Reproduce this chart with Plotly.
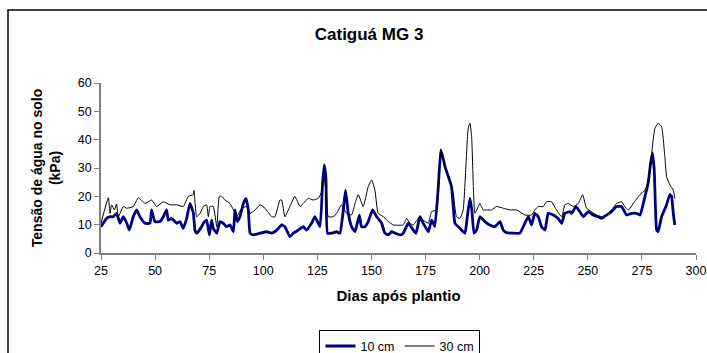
import plotly.graph_objects as go

# 10 cm series (days after planting, soil water tension kPa)
days_10 = [25.0, 27.6, 29.2, 30.7, 32.2, 33.8, 35.3, 36.9, 38.1, 39.9, 41.5, 43.0, 45.3, 47.6, 48.4,
           49.9, 52.3, 53.8, 55.3, 56.1, 57.6, 60.0, 61.5, 63.0, 64.6, 66.1, 67.7, 68.4, 69.2, 71.5,
           72.3, 73.8, 75.1, 76.1, 76.9, 78.5, 80.0, 81.5, 83.1, 84.6, 86.2, 86.9, 88.0, 89.2, 90.8,
           92.0, 93.1, 93.9, 95.4, 98.5, 101.6, 103.9, 106.2, 108.5, 110.0, 112.3, 113.9, 116.2, 118.5,
           120.0, 122.3, 123.9, 126.2, 127.4, 128.2, 129.0, 129.7, 131.6, 133.9, 135.4, 137.0, 138.0,
           139.3, 140.8, 142.4, 144.4, 145.4, 147.0, 148.5, 150.5, 152.4, 154.7, 156.2, 157.8, 159.3,
           160.9, 163.2, 164.7, 167.0, 169.3, 170.6, 172.4, 173.9, 176.3, 177.8, 178.6, 179.3, 180.9,
           182.1, 184.0, 185.5, 187.0, 187.8, 188.6, 190.9, 193.2, 194.3, 195.5, 196.4, 197.4, 198.6,
           200.1, 202.4, 204.7, 207.1, 209.4, 210.9, 212.4, 215.5, 218.6, 220.9, 222.5, 224.0, 225.5,
           227.1, 228.6, 230.2, 231.7, 234.0, 236.3, 237.9, 239.4, 241.7, 242.5, 244.5, 246.3, 247.9,
           250.2, 252.5, 254.8, 256.4, 258.7, 261.0, 263.3, 265.6, 267.9, 270.2, 272.5, 274.1, 276.4,
           277.9, 279.0, 279.9, 280.7, 281.8, 282.5, 284.1, 286.1, 287.9, 288.7, 289.5, 290.2]
tens_10 = [9.3, 12.2, 12.8, 12.8, 14.0, 10.5, 12.8, 10.5, 8.1, 12.8, 15.2, 12.8, 10.5, 10.5, 15.2,
           11.1, 11.1, 12.8, 15.2, 11.6, 12.2, 10.5, 11.1, 8.7, 12.2, 17.5, 14.0, 8.1, 7.0, 9.3,
           10.5, 11.6, 6.4, 11.6, 8.7, 7.0, 11.1, 10.5, 9.3, 9.9, 7.5, 15.2, 11.1, 12.8, 17.5,
           19.3, 15.2, 7.0, 6.4, 7.0, 7.5, 7.0, 8.1, 9.9, 9.3, 5.8, 7.0, 8.1, 9.3,
           8.1, 10.5, 12.8, 9.3, 24.6, 31.1, 25.8, 7.0, 7.0, 7.5, 7.0, 15.2, 22.2,
           14.0, 9.3, 7.5, 13.4, 9.3, 9.3, 11.1, 15.2, 12.8, 10.5, 7.0, 6.4, 7.5,
           7.0, 6.4, 7.0, 10.5, 8.1, 7.0, 12.8, 10.5, 7.5, 11.6, 10.5, 9.3, 23.4,
           36.4, 30.5, 27.0, 23.4, 16.4, 10.5, 8.7, 7.0, 12.8, 19.3, 15.2, 7.0, 8.1,
           12.8, 11.1, 9.9, 9.3, 11.1, 8.1, 7.2, 7.0, 7.0, 10.5, 12.8, 9.9, 14.0,
           12.8, 9.3, 8.1, 14.0, 13.4, 12.2, 10.5, 14.0, 14.6, 14.0, 16.4, 14.6, 12.8,
           14.6, 13.4, 12.8, 12.2, 13.4, 14.6, 16.4, 16.4, 13.4, 14.0, 14.0, 13.4, 19.9,
           24.6, 31.6, 35.2, 29.3, 8.1, 7.5, 12.8, 16.4, 20.6, 20.0, 14.0, 9.9]

# 30 cm series
days_30 = [25.0, 28.4, 29.2, 29.9, 31.2, 32.2, 33.0, 35.3, 36.9, 39.9, 42.3, 45.3, 48.4, 50.7, 53.8,
           56.9, 60.0, 63.0, 65.4, 67.7, 68.0, 69.2, 70.8, 72.3, 73.8, 74.6, 75.4, 76.9, 78.5, 79.7,
           80.8, 82.3, 84.6, 86.2, 87.7, 90.0, 92.3, 93.9, 96.2, 98.5, 100.8, 103.9, 105.4, 107.7,
           108.5, 110.0, 112.3, 114.6, 117.0, 118.5, 120.8, 123.1, 125.4, 127.0, 128.0, 129.3, 130.0,
           132.4, 133.9, 136.2, 138.5, 140.8, 142.4, 143.9, 146.2, 148.5, 150.1, 151.6, 153.1, 155.5,
           157.8, 160.1, 164.7, 166.2, 167.8, 169.3, 172.4, 173.9, 176.3, 177.8, 180.1, 180.9, 182.0,
           184.0, 186.3, 187.8, 189.3, 190.9, 192.4, 193.7, 194.7, 195.5, 196.3, 197.1, 197.8, 199.4,
           200.1, 201.7, 203.2, 205.5, 207.8, 210.9, 214.0, 217.1, 220.9, 224.0, 225.5, 227.1, 229.4,
           230.9, 233.2, 235.5, 237.9, 239.4, 241.0, 243.3, 245.6, 247.6, 249.4, 251.7, 254.0, 256.3,
           258.7, 261.0, 263.3, 265.6, 267.1, 268.7, 271.0, 274.1, 276.4, 277.9, 279.5, 281.0, 282.5,
           284.1, 285.6, 286.4, 287.9, 289.5, 290.2]
tens_30 = [10.5, 19.5, 14.0, 17.0, 15.2, 17.3, 12.8, 16.4, 15.8, 16.4, 19.5, 17.5, 18.7, 16.4, 18.1,
           17.0, 17.0, 16.4, 20.0, 20.6, 22.1, 12.8, 14.0, 16.4, 17.0, 12.8, 16.4, 16.4, 9.3, 20.0,
           20.0, 18.7, 17.5, 15.2, 12.8, 15.8, 16.4, 14.0, 15.2, 17.0, 15.8, 12.8, 12.8, 18.7,
           18.7, 12.8, 16.4, 20.0, 16.4, 17.5, 19.3, 18.7, 19.3, 21.6, 27.0, 20.0, 12.8,
           12.8, 14.0, 17.0, 14.0, 13.4, 17.5, 20.6, 16.4, 23.4, 25.8, 22.2, 14.0, 12.8,
           11.1, 9.9, 9.9, 12.2, 10.5, 9.9, 12.8, 11.6, 10.5, 14.6, 15.2, 22.1, 36.4,
           30.5, 25.8, 21.1, 12.8, 12.2, 15.2, 31.6, 44.0, 45.8, 41.1, 23.4, 14.0, 16.4,
           17.5, 15.2, 15.2, 15.2, 16.4, 15.8, 15.2, 15.2, 13.4, 13.4, 15.2, 16.4, 16.4,
           18.1, 18.1, 15.2, 12.8, 17.0, 17.5, 16.4, 17.5, 20.6, 15.8, 14.6, 13.4, 12.8,
           13.4, 15.2, 17.5, 18.1, 16.4, 15.2, 17.5, 20.6, 22.1, 25.8, 35.2, 44.0, 45.8,
           44.6, 34.0, 27.0, 24.1, 22.2, 19.3]

x_ticks = [25, 50, 75, 100, 125, 150, 175, 200, 225, 250, 275, 300]
y_ticks = [0, 10, 20, 30, 40, 50, 60]

FONT = "Liberation Sans, Arial, sans-serif"

fig = go.Figure()
fig.add_trace(go.Scatter(x=days_10, y=tens_10, mode="lines", name="10 cm",
                         line=dict(color="#000080", width=2.8, shape="spline", smoothing=0.4)))
fig.add_trace(go.Scatter(x=days_30, y=tens_30, mode="lines", name="30 cm",
                         line=dict(color="#000000", width=1, shape="spline", smoothing=0.4)))

fig.update_layout(
    width=707, height=353,
    margin=dict(l=101, r=11, t=83, b=100, autoexpand=False),
    paper_bgcolor="white", plot_bgcolor="white",
    font=dict(family=FONT, size=12, color="black"),
    title=dict(text="<b>Catiguá MG 3</b>", x=0.522, xanchor="center", y=0.903, yanchor="middle",
               font=dict(size=17, family=FONT)),
    showlegend=True,
    legend=dict(orientation="h", x=0.5025, xanchor="center", y=-0.455, yanchor="top",
                bordercolor="black", borderwidth=1, bgcolor="white",
                font=dict(size=12.5, family=FONT), itemwidth=30, tracegroupgap=0),
    xaxis=dict(range=[25, 300], tickvals=x_ticks, ticktext=[str(v) for v in x_ticks],
               showgrid=False, zeroline=False, showline=True, linecolor="#808080", linewidth=1.5,
               ticks="outside", ticklen=5, tickcolor="#808080", tickwidth=1, automargin=False,
               tickfont=dict(size=12.5), title=dict(text="<b>Dias após plantio</b>", font=dict(size=15), standoff=14)),
    yaxis=dict(range=[0, 60], tickvals=y_ticks, ticktext=[str(v) for v in y_ticks],
               showgrid=False, zeroline=False, showline=True, linecolor="#808080", linewidth=1.5,
               ticks="outside", ticklen=5, tickcolor="#808080", tickwidth=1, automargin=False,
               tickfont=dict(size=12.5),
               title=dict(text="<b>Tensão de água no solo<br>(kPa)</b>", font=dict(size=14), standoff=14)),
)

fig.add_shape(type="rect", xref="paper", yref="paper", x0=-0.1563, x1=1.03, y0=-0.62, y1=1.429,
              line=dict(color="black", width=1.5), fillcolor="rgba(0,0,0,0)", layer="below")

fig.write_html("out.html")
